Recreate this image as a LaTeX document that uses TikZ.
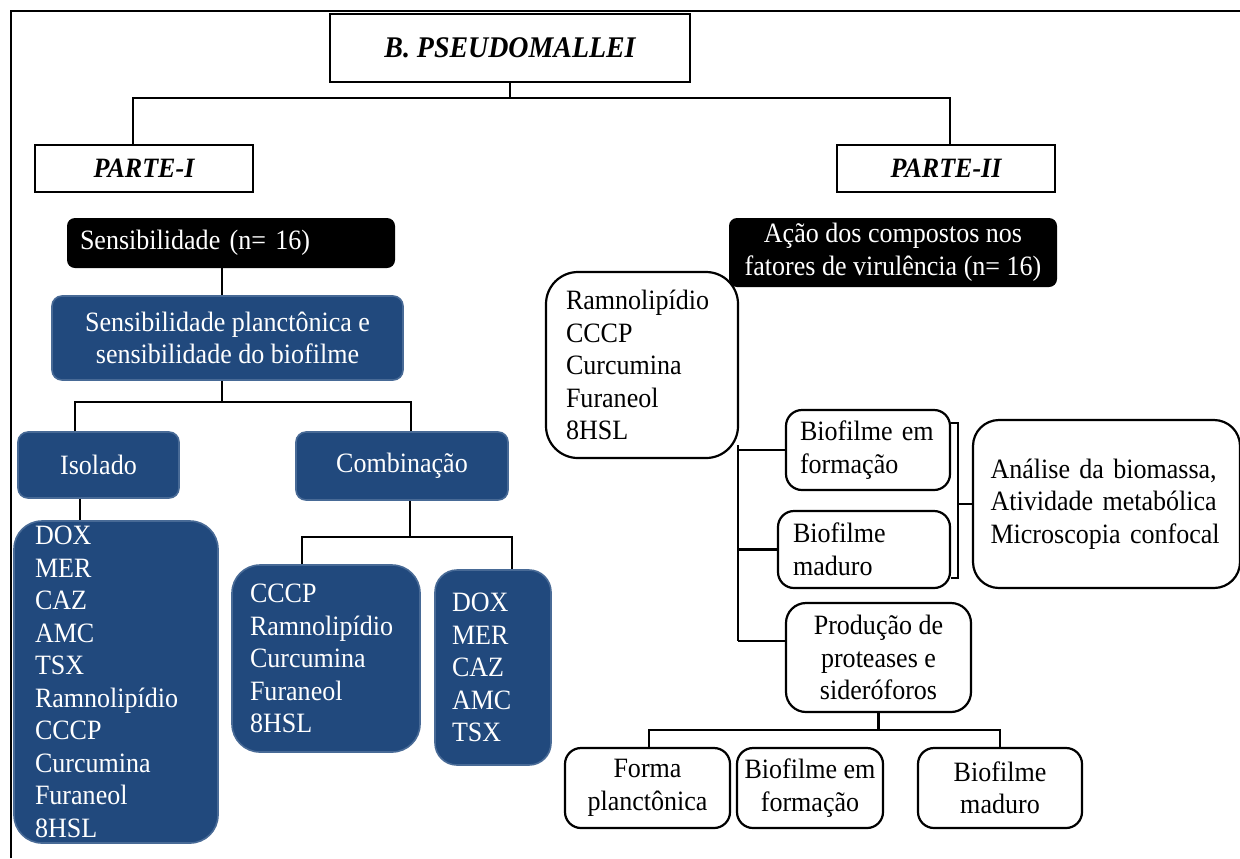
\documentclass[tikz,border=0pt]{standalone}
\usepackage{fontspec}
\setmainfont[FakeStretch=0.93]{Liberation Serif}
\usetikzlibrary{calc}
\definecolor{bluebox}{RGB}{33,73,125}
\definecolor{blueedge}{RGB}{72,106,150}
\begin{document}
\begin{tikzpicture}[x=0.5pt,y=-0.5pt,
  every node/.style={font=\fontsize{14}{16.25}\selectfont, inner sep=0pt},
  conn/.style={line width=1.25pt},
  sqbox/.style={draw=black, line width=1.1pt, fill=white, rectangle},
  wbox/.style={draw=black, line width=1.1pt, fill=white, rounded corners=8pt},
  bbox/.style={draw=blueedge, line width=0.8pt, fill=bluebox, text=white, rounded corners=5pt},
  blbox/.style={draw=blueedge, line width=0.8pt, fill=bluebox, text=white, rounded corners=14pt},
  blk/.style={fill=black, text=white, rounded corners=4pt},
  titlefont/.style={font=\fontsize{15}{17}\selectfont\bfseries\itshape},
  partfont/.style={font=\fontsize{14}{16}\selectfont\bfseries\itshape}
]
\useasboundingbox (0,0) rectangle (1240,858);
\fill[white] (0,0) rectangle (1240,858);
\draw[line width=1pt] (11,858) -- (11,11) -- (1240,11);

% ---------- top ----------
\node[sqbox, minimum width=180pt, minimum height=34pt, titlefont] (top) at (510,48) {B. PSEUDOMALLEI};
\node[sqbox, minimum width=109pt, minimum height=23.5pt, partfont] (p1) at (144,168.5) {PARTE-I};
\node[sqbox, minimum width=109pt, minimum height=23.5pt, partfont] (p2) at (946,168.5) {PARTE-II};

% ---------- part I ----------
\node[blk, minimum width=164pt, minimum height=25pt, text width=151pt, inner xsep=6.5pt, align=left] (sens) at (231,243) {Sensibilidade (n= 16)};
\node[bbox, minimum width=175.5pt, minimum height=42pt, align=center] (planc) at (227.5,338) {Sensibilidade planctônica e\\sensibilidade do biofilme};
\node[bbox, minimum width=80.5pt, minimum height=33pt] (iso) at (98.5,465) {Isolado};
\node[bbox, minimum width=106pt, minimum height=34pt] (comb) at (402,466) {Combinação};
\node[blbox, minimum height=161pt, text width=81pt, inner xsep=10.5pt, align=left] (isol) at (116,682)
  {DOX\\MER\\CAZ\\AMC\\TSX\\Ramnolipídio\\CCCP\\Curcumina\\Furaneol\\8HSL};
\node[blbox, minimum height=93.5pt, text width=76pt, inner xsep=9pt, align=left] (comb1) at (326,658.5)
  {CCCP\\Ramnolipídio\\Curcumina\\Furaneol\\8HSL};
\node[blbox, rounded corners=11pt, minimum height=97.5pt, text width=41pt, inner xsep=8.5pt, align=left] (comb2) at (493,667.5)
  {DOX\\MER\\CAZ\\AMC\\TSX};

% ---------- part II ----------
\node[wbox, rounded corners=16pt, minimum height=93pt, text width=76pt, inner xsep=10pt, align=left] (ram) at (642,365)
  {Ramnolipídio\\CCCP\\Curcumina\\Furaneol\\8HSL};
\node[blk, minimum width=164pt, minimum height=34.5pt, align=center] (aca) at (893,252.5) {Ação dos compostos nos\\fatores de virulência (n= 16)};
\node[wbox, minimum height=40pt, text width=68pt, inner xsep=7pt, align=left] (bf1) at (868,450) {\mbox{Biofilme em}\\formação};
\node[wbox, minimum height=38.5pt, text width=71pt, inner xsep=7.5pt, align=left] (bm) at (864,549.5) {Biofilme\\maduro};
\node[wbox, rounded corners=13pt, minimum height=84pt, text width=116pt, inner xsep=8.75pt, align=left] (anl) at (1106.5,504)
  {\mbox{Análise da biomassa,}\\\mbox{Atividade metabólica}\\\mbox{Microscopia confocal}};
\node[wbox, rounded corners=10pt, minimum width=92.5pt, minimum height=54.5pt, align=center] (prod) at (878.5,657.5) {Produção de\\proteases e\\sideróforos};
\node[wbox, minimum width=82.5pt, minimum height=40pt, align=center] (forma) at (647.5,788) {Forma\\planctônica};
\node[wbox, minimum width=73pt, minimum height=40pt, align=center] (bfe) at (810,788) {Biofilme em\\formação};
\node[wbox, minimum width=82pt, minimum height=40pt, align=center] (bmad) at (1000,788) {Biofilme\\maduro};

% ---------- junction coordinates ----------
\coordinate (c1) at (133,98);
\coordinate (c2) at (950,98);
\coordinate (c3) at (222,402);
\coordinate (c4) at (75,402);
\coordinate (c5) at (411,402);
\coordinate (c6) at (80,510);
\coordinate (c7) at (410,537);
\coordinate (c8) at (302,537);
\coordinate (c9) at (512,537);
\coordinate (c10) at (738,445);
\coordinate (c11) at (738,641);
\coordinate (c12) at (878.5,730);
\coordinate (c13) at (649,730);
\coordinate (c14) at (1000,730);
\coordinate (b1) at (958,423);
\coordinate (b2) at (958,578);

% ---------- connectors ----------
\draw[conn] (top.south) |- (c1) -- (c1 |- p1.north);
\draw[conn] (top.south) |- (c2) -- (c2 |- p2.north);
\draw[conn] (c3 |- sens.south) -- (c3 |- planc.north);
\draw[conn] (c3 |- planc.south) -- (c3);
\draw[conn] (c4 |- iso.north) -- (c4) -- (c5) -- (c5 |- comb.north);
\draw[conn] (c6 |- iso.south) -- (c6 |- isol.north);
\draw[conn] (c7 |- comb.south) -- (c7);
\draw[conn] (c8 |- comb1.north) -- (c8) -- (c9) -- (c9 |- comb2.north);

\draw[conn] (c10) -- (c11);
\draw[conn] (c10 |- bf1.west) -- (bf1.west);
\draw[conn] (c10 |- bm.west) -- (bm.west);
\draw[conn] (c11) -- (c11 -| prod.west);
\draw[line width=1pt] (b1 -| bf1.east) -- (b1) -- (b2) -- (b2 -| bm.east);
\draw[line width=1pt] (b1 |- anl.west) -- (anl.west);

\draw[conn] (prod.south) -- (c12);
\draw[conn] (c13 |- forma.north) -- (c13) -- (c14) -- (c14 |- bmad.north);
\end{tikzpicture}
\end{document}
